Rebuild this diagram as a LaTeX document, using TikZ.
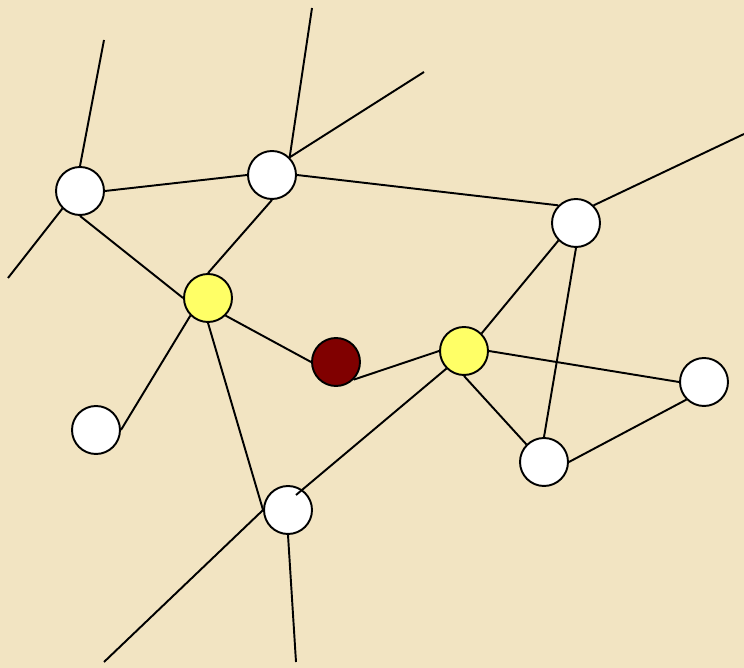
\documentclass[tikz,border=0pt]{standalone}
\usetikzlibrary{positioning}
\definecolor{parch}{RGB}{242,228,194}
\definecolor{lemon}{RGB}{255,255,102}
\definecolor{maroon}{RGB}{128,0,0}
\tikzset{
  vtx/.style={circle,draw,line width=1.1pt,minimum size=0.96cm,inner sep=0pt,fill=white},
  hub/.style={vtx,fill=lemon},
  src/.style={vtx,fill=maroon},
  link/.style={line width=1.1pt}
}
\begin{document}
\begin{tikzpicture}[x=0.02cm,y=-0.02cm]
  \fill[parch] (0,0) rectangle (744,668);
  \useasboundingbox (0,0) rectangle (744,668);
  % vertices
  \node[vtx] (a) at (80,191) {};
  \node[vtx] (b) at (272,175) {};
  \node[vtx] (c) at (576,223) {};
  \node[hub] (d) at (208,298) {};
  \node[src] (e) at (336,362) {};
  \node[hub] (f) at (464,351) {};
  \node[vtx] (g) at (96,430) {};
  \node[vtx] (h) at (704,382) {};
  \node[vtx] (i) at (544,462) {};
  \node[vtx] (j) at (288,510) {};
  % loose ends
  \coordinate (a1) at (104,40);
  \coordinate (a2) at (8,278);
  \coordinate (b1) at (312,8);
  \coordinate (b2) at (424,72);
  \coordinate (c1) at (744,134);
  \coordinate (f1) at (296,495);
  \coordinate (j1) at (104,662);
  \coordinate (j2) at (296,662);
  % links, attached at the eight connection points
  \draw[link] (a.0) -- (b.180);
  \draw[link] (a.-90) -- (d.180);
  \draw[link] (a.90) -- (a1);
  \draw[link] (a.-135) -- (a2);
  \draw[link] (b.-90) -- (d.90);
  \draw[link] (b.45) -- (b1);
  \draw[link] (b.45) -- (b2);
  \draw[link] (b.0) -- (c.135);
  \draw[link] (c.45) -- (c1);
  \draw[link] (c.-135) -- (f.45);
  \draw[link] (c.-90) -- (i.90);
  \draw[link] (d.-45) -- (e.180);
  \draw[link] (d.-135) -- (g.0);
  \draw[link] (d.-90) -- (j.180);
  \draw[link] (e.-45) -- (f.180);
  \draw[link] (f.-135) -- (f1);
  \draw[link] (f.0) -- (h.180);
  \draw[link] (f.-90) -- (i.135);
  \draw[link] (i.0) -- (h.-135);
  \draw[link] (j.180) -- (j1);
  \draw[link] (j.-90) -- (j2);
\end{tikzpicture}
\end{document}
